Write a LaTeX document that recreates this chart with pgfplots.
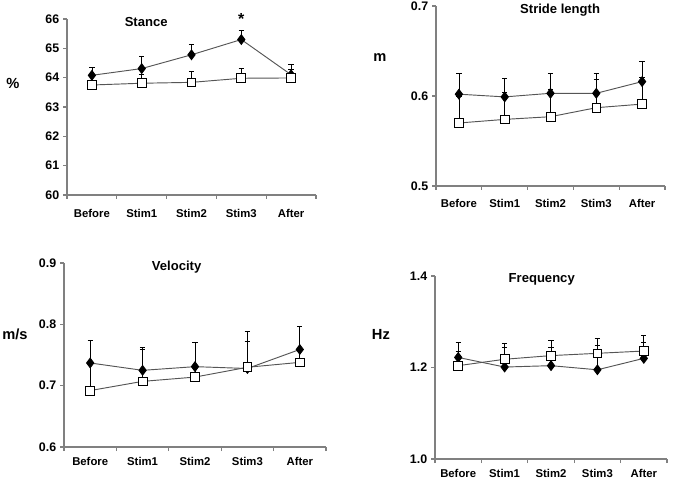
\documentclass[border=0pt]{standalone}
\usepackage{pgfplots}
\pgfplotsset{compat=1.18}
\usepackage{fontspec}
\setmainfont{Liberation Sans}
\definecolor{axgray}{HTML}{808080}
\definecolor{lngray}{HTML}{555555}
\tikzset{ttl/.style={font=\fontsize{9.8}{11}\selectfont\bfseries}}
\pgfplotsset{
  panel/.style={
    scale only axis,
    anchor=south west,
    clip=false,
    axis x line*=bottom, axis y line*=left,
    axis line style={-, draw=axgray, line width=0.8pt},
    xmin=-0.5, xmax=4.5,
    xtick={0,...,4},
    xticklabels={Before,Stim1,Stim2,Stim3,After},
    minor xtick={-0.5,0.5,1.5,2.5,3.5,4.5},
    tick align=outside,
    major tick length=0pt, minor tick length=3pt,
    tick style={draw=axgray, line width=0.8pt},
    xticklabel style={font=\fontsize{8.5}{10}\selectfont\bfseries, yshift=-7pt},
    yticklabel style={font=\fontsize{9.3}{10}\selectfont\bfseries, xshift=-2.3pt},
    /pgf/number format/assume math mode=true,
    every axis y label/.style={font=\fontsize{11}{12}\selectfont\bfseries, anchor=center},
  },
  dia/.style={draw=lngray, line width=0.7pt, mark=diamond*, mark size=3.6pt,
    mark options={fill=black, draw=black, solid},
    error bars/.cd, y dir=plus, y explicit,
    error bar style={black, line width=0.5pt},
    error mark options={rotate=90, black, mark size=2pt, line width=0.5pt}},
  sq/.style={draw=lngray, line width=0.7pt, mark=square*, mark size=3.3pt,
    mark options={fill=white, draw=black, line width=0.6pt, solid},
    error bars/.cd, y dir=plus, y explicit,
    error bar style={black, line width=0.5pt},
    error mark options={rotate=90, black, mark size=2pt, line width=0.5pt}},
}
\begin{document}
\begin{tikzpicture}
\useasboundingbox (0,0) rectangle (510pt,360.75pt);

% Stance
\begin{axis}[panel, at={(50.25pt,214.5pt)}, width=186.75pt, height=132pt,
  ymin=60, ymax=66, ytick={60,...,66}, minor ytick={60,...,66},
  ylabel={\%}, every axis y label/.append style={at={(axis description cs:-0.217,0.636)}}]
\addplot+[dia] coordinates {(0,64.08) +- (0,0.28) (1,64.31) +- (0,0.42) (2,64.78) +- (0,0.36) (3,65.30) +- (0,0.33) (4,64.10) +- (0,0.35)};
\addplot+[sq] coordinates {(0,63.75) +- (0,0.28) (1,63.81) +- (0,0.30) (2,63.84) +- (0,0.36) (3,63.98) +- (0,0.34) (4,63.99) +- (0,0.29)};
\node[ttl] at (axis cs:1.09,65.9) {Stance};
\node[font=\fontsize{12}{12}\selectfont\bfseries] at (axis cs:3,66.0) {*};
\end{axis}

% Stride length
\begin{axis}[panel, at={(327pt,221.25pt)}, width=171.75pt, height=135pt,
  ymin=0.5, ymax=0.7, ytick={0.5,0.6,0.7}, minor ytick={0.5,0.6,0.7},
  xticklabel style={yshift=0.5pt},
  yticklabel style={/pgf/number format/.cd, fixed, precision=1, zerofill},
  ylabel={m}, every axis y label/.append style={at={(axis description cs:-0.245,0.711)}}]
\addplot+[dia] coordinates {(0,0.602) +- (0,0.023) (1,0.599) +- (0,0.021) (2,0.603) +- (0,0.022) (3,0.603) +- (0,0.022) (4,0.616) +- (0,0.023)};
\addplot+[sq] coordinates {(0,0.570) +- (0,0.030) (1,0.574) +- (0,0.030) (2,0.577) +- (0,0.030) (3,0.587) +- (0,0.032) (4,0.591) +- (0,0.030)};
\node[ttl] at (axis cs:2.21,0.6956) {Stride length};
\end{axis}

% Velocity
\begin{axis}[panel, at={(48pt,25.5pt)}, width=196.5pt, height=138pt,
  ymin=0.6, ymax=0.9, ytick={0.6,0.7,0.8,0.9}, minor ytick={0.6,0.7,0.8,0.9},
  xticklabel style={yshift=2.5pt},
  yticklabel style={/pgf/number format/.cd, fixed, precision=1, zerofill},
  ylabel={m/s}, every axis y label/.append style={at={(axis description cs:-0.187,0.614)}}]
\addplot+[dia] coordinates {(0,0.737) +- (0,0.037) (1,0.725) +- (0,0.037) (2,0.731) +- (0,0.040) (3,0.728) +- (0,0.061) (4,0.759) +- (0,0.038)};
\addplot+[sq] coordinates {(0,0.692) +- (0,0.045) (1,0.707) +- (0,0.053) (2,0.714) +- (0,0.056) (3,0.730) +- (0,0.042) (4,0.738) +- (0,0.058)};
\node[ttl] at (axis cs:1.65,0.893) {Velocity};
\end{axis}

% Frequency
\begin{axis}[panel, at={(326.25pt,16.5pt)}, width=174pt, height=137.25pt,
  ymin=1.0, ymax=1.4, ytick={1.0,1.2,1.4}, minor ytick={1.0,1.2,1.4},
  xticklabel style={yshift=2.8pt},
  yticklabel style={/pgf/number format/.cd, fixed, precision=1, zerofill},
  ylabel={Hz}, every axis y label/.append style={at={(axis description cs:-0.233,0.681)}}]
\addplot+[dia] coordinates {(0,1.222) +- (0,0.034) (1,1.201) +- (0,0.052) (2,1.204) +- (0,0.056) (3,1.195) +- (0,0.068) (4,1.220) +- (0,0.050)};
\addplot+[sq] coordinates {(0,1.204) +- (0,0.031) (1,1.218) +- (0,0.026) (2,1.226) +- (0,0.019) (3,1.231) +- (0,0.017) (4,1.236) +- (0,0.020)};
\node[ttl] at (axis cs:1.80,1.393) {Frequency};
\end{axis}
\end{tikzpicture}
\end{document}
